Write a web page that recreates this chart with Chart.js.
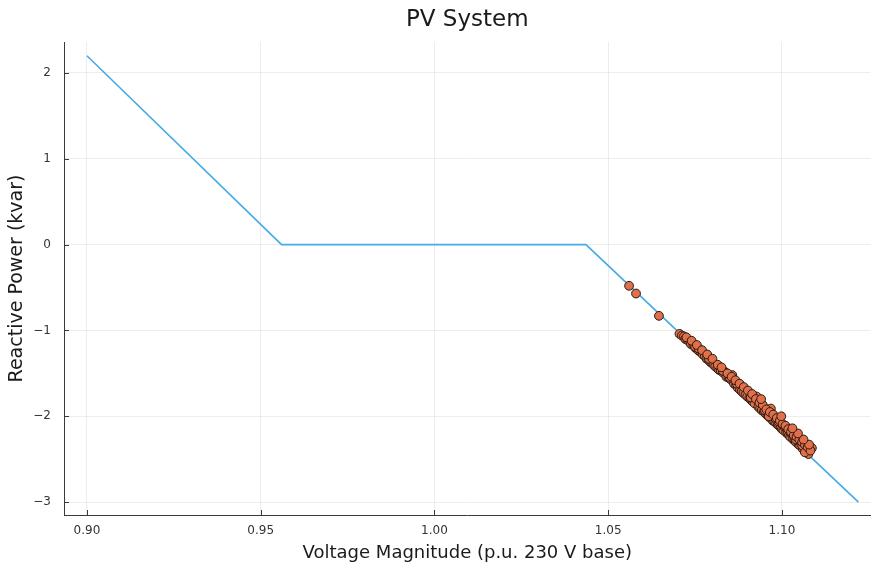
<!DOCTYPE html>
<html>
<head>
<meta charset="utf-8">
<script src="https://cdn.jsdelivr.net/npm/chart.js@4"></script>
<style>
  html, body { margin: 0; padding: 0; background: #fff; }
  #wrap { width: 876px; height: 565px; position: relative; }
</style>
</head>
<body>
<div id="wrap"><canvas id="chart"></canvas></div>
<script>
// volt-var curve (breakpoints)
const curveVoltage = [0.900, 0.956, 1.0436, 1.122];
const curveReactive = [2.2, 0.0, 0.0, -3.0];

// measured PV points
const pvVoltage = [
  1.0560, 1.0580, 1.0646, 1.0705, 1.0712, 1.0718, 1.0722, 1.0728, 1.0733, 1.0738,
  1.0745, 1.0750, 1.0756, 1.0761, 1.0766, 1.0772, 1.0778, 1.0783, 1.0788, 1.0794,
  1.0799, 1.0803, 1.0808, 1.0814, 1.0819, 1.0824, 1.0830, 1.0835, 1.0840, 1.0846,
  1.0852, 1.0857, 1.0862, 1.0868, 1.0873, 1.0879, 1.0884, 1.0889, 1.0895, 1.0900,
  1.0906, 1.0911, 1.0916, 1.0921, 1.0927, 1.0932, 1.0937, 1.0942, 1.0948, 1.0953,
  1.0958, 1.0963, 1.0968, 1.0973, 1.0978, 1.0983, 1.0988, 1.0992, 1.0996, 1.1000,
  1.1004, 1.1008, 1.1012, 1.1016, 1.1020, 1.1024, 1.1028, 1.1032, 1.1036, 1.1040,
  1.1044, 1.1048, 1.1052, 1.1056, 1.1060, 1.1064, 1.1068, 1.1072, 1.1076, 1.1080,
  1.1086, 1.0750, 1.0790, 1.0830, 1.0870, 1.0910, 1.0950, 1.0990, 1.1030, 1.1050,
  1.1070, 1.0980, 1.1010, 1.0850, 1.0760, 1.1058, 1.1066, 1.1040, 1.1022, 1.0962,
  1.0725, 1.0740, 1.0755, 1.0770, 1.0785, 1.0800, 1.0815, 1.0826, 1.0843, 1.0855,
  1.0866, 1.0878, 1.0890, 1.0902, 1.0914, 1.0925, 1.0935, 1.0945, 1.0955, 1.0965,
  1.0975, 1.0985, 1.0994, 1.1002, 1.1010, 1.1018, 1.1026, 1.1034, 1.1042, 1.1050,
  1.1058, 1.1066, 1.1074, 1.1082, 1.1078, 1.1062, 1.1046, 1.1030, 1.0998, 1.0940
];
const pvReactive = [
  -0.48, -0.57, -0.83, -1.04, -1.06, -1.07, -1.10, -1.11, -1.13, -1.16,
  -1.17, -1.20, -1.22, -1.24, -1.25, -1.28, -1.30, -1.33, -1.34, -1.37,
  -1.38, -1.40, -1.42, -1.44, -1.46, -1.47, -1.49, -1.48, -1.54, -1.55,
  -1.57, -1.52, -1.62, -1.64, -1.67, -1.69, -1.71, -1.73, -1.75, -1.77,
  -1.79, -1.81, -1.83, -1.85, -1.77, -1.89, -1.91, -1.93, -1.95, -1.97,
  -1.99, -2.01, -1.91, -2.05, -2.06, -2.08, -2.10, -2.11, -2.13, -2.15,
  -2.16, -2.13, -2.19, -2.20, -2.22, -2.24, -2.21, -2.27, -2.28, -2.30,
  -2.26, -2.33, -2.34, -2.31, -2.38, -2.36, -2.40, -2.42, -2.44, -2.39,
  -2.37, -1.19, -1.33, -1.47, -1.62, -1.78, -1.93, -2.06, -2.20, -2.29,
  -2.36, -2.02, -2.12, -1.55, -1.21, -2.34, -2.42, -2.27, -2.18, -2.00,
  -1.08, -1.12, -1.17, -1.23, -1.28, -1.33, -1.40, -1.43, -1.50, -1.54,
  -1.58, -1.62, -1.66, -1.70, -1.74, -1.80, -1.84, -1.87, -1.92, -1.95,
  -1.98, -2.02, -2.05, -2.09, -2.11, -2.15, -2.18, -2.22, -2.24, -2.27,
  -2.30, -2.33, -2.36, -2.40, -2.33, -2.27, -2.20, -2.14, -2.00, -1.80
];

const xTicks = [0.90, 0.95, 1.00, 1.05, 1.10];
const yTicks = [-3, -2, -1, 0, 1, 2];

const axisColor = '#3a3a3a';
const FONT = 'DejaVu Sans';

const inwardTicks = {
  id: 'inwardTicks',
  afterDraw(chart) {
    const { ctx, chartArea, scales } = chart;
    ctx.save();
    ctx.strokeStyle = axisColor;
    ctx.lineWidth = 1;
    ctx.beginPath();
    scales.x.ticks.forEach(t => {
      const px = Math.round(scales.x.getPixelForValue(t.value)) + 0.5;
      ctx.moveTo(px, chartArea.bottom);
      ctx.lineTo(px, chartArea.bottom - 5);
    });
    scales.y.ticks.forEach(t => {
      const py = Math.round(scales.y.getPixelForValue(t.value)) + 0.5;
      ctx.moveTo(chartArea.left, py);
      ctx.lineTo(chartArea.left + 5, py);
    });
    ctx.stroke();
    // title centred over plot area
    ctx.fillStyle = '#1a1a1a';
    ctx.font = '23px "' + FONT + '"';
    ctx.textAlign = 'center';
    ctx.textBaseline = 'middle';
    ctx.fillText('PV System', (chartArea.left + chartArea.right) / 2, 20);
    ctx.restore();
  }
};

new Chart(document.getElementById('chart'), {
  type: 'scatter',
  data: {
    datasets: [
      {
        label: 'curve',
        data: curveVoltage.map((v, i) => ({ x: v, y: curveReactive[i] })),
        showLine: true,
        borderColor: '#45abe6',
        borderWidth: 1.6,
        pointRadius: 0,
        fill: false,
        order: 2
      },
      {
        label: 'PV',
        data: pvVoltage.map((v, i) => ({ x: v, y: pvReactive[i] })),
        backgroundColor: '#e0704a',
        borderColor: '#2a1810',
        borderWidth: 1,
        pointRadius: 4.4,
        order: 1
      }
    ]
  },
  options: {
    responsive: true,
    maintainAspectRatio: false,
    animation: false,
    layout: { padding: { top: 42, right: 2, left: 0, bottom: 0 } },
    plugins: {
      legend: { display: false },
      tooltip: { enabled: false },
      title: { display: false }
    },
    scales: {
      x: {
        type: 'linear',
        min: 0.8934,
        max: 1.1255,
        afterBuildTicks: s => { s.ticks = xTicks.map(v => ({ value: v })); },
        afterFit: s => { s.height = 50; },
        grid: { color: 'rgba(0,0,0,0.07)', drawTicks: false },
        border: { color: axisColor, width: 1 },
        ticks: {
          padding: 9,
          color: '#333',
          font: { family: FONT, size: 12 },
          callback: v => v.toFixed(2)
        },
        title: {
          display: true,
          text: 'Voltage Magnitude (p.u. 230 V base)',
          color: '#1a1a1a',
          font: { family: FONT, size: 18 },
          padding: { top: 0, bottom: 1 }
        }
      },
      y: {
        type: 'linear',
        min: -3.15,
        max: 2.36,
        afterBuildTicks: s => { s.ticks = yTicks.map(v => ({ value: v })); },
        afterFit: s => { s.width = 64; },
        grid: { color: 'rgba(0,0,0,0.07)', drawTicks: false },
        border: { color: axisColor, width: 1 },
        ticks: {
          padding: 13,
          color: '#333',
          font: { family: FONT, size: 12 },
          callback: v => String(v).replace('-', '\u2212')
        },
        title: {
          display: true,
          text: 'Reactive Power (kvar)',
          color: '#1a1a1a',
          font: { family: FONT, size: 19 },
          padding: { top: 6, bottom: 0 }
        }
      }
    }
  },
  plugins: [inwardTicks]
});
</script>
</body>
</html>
